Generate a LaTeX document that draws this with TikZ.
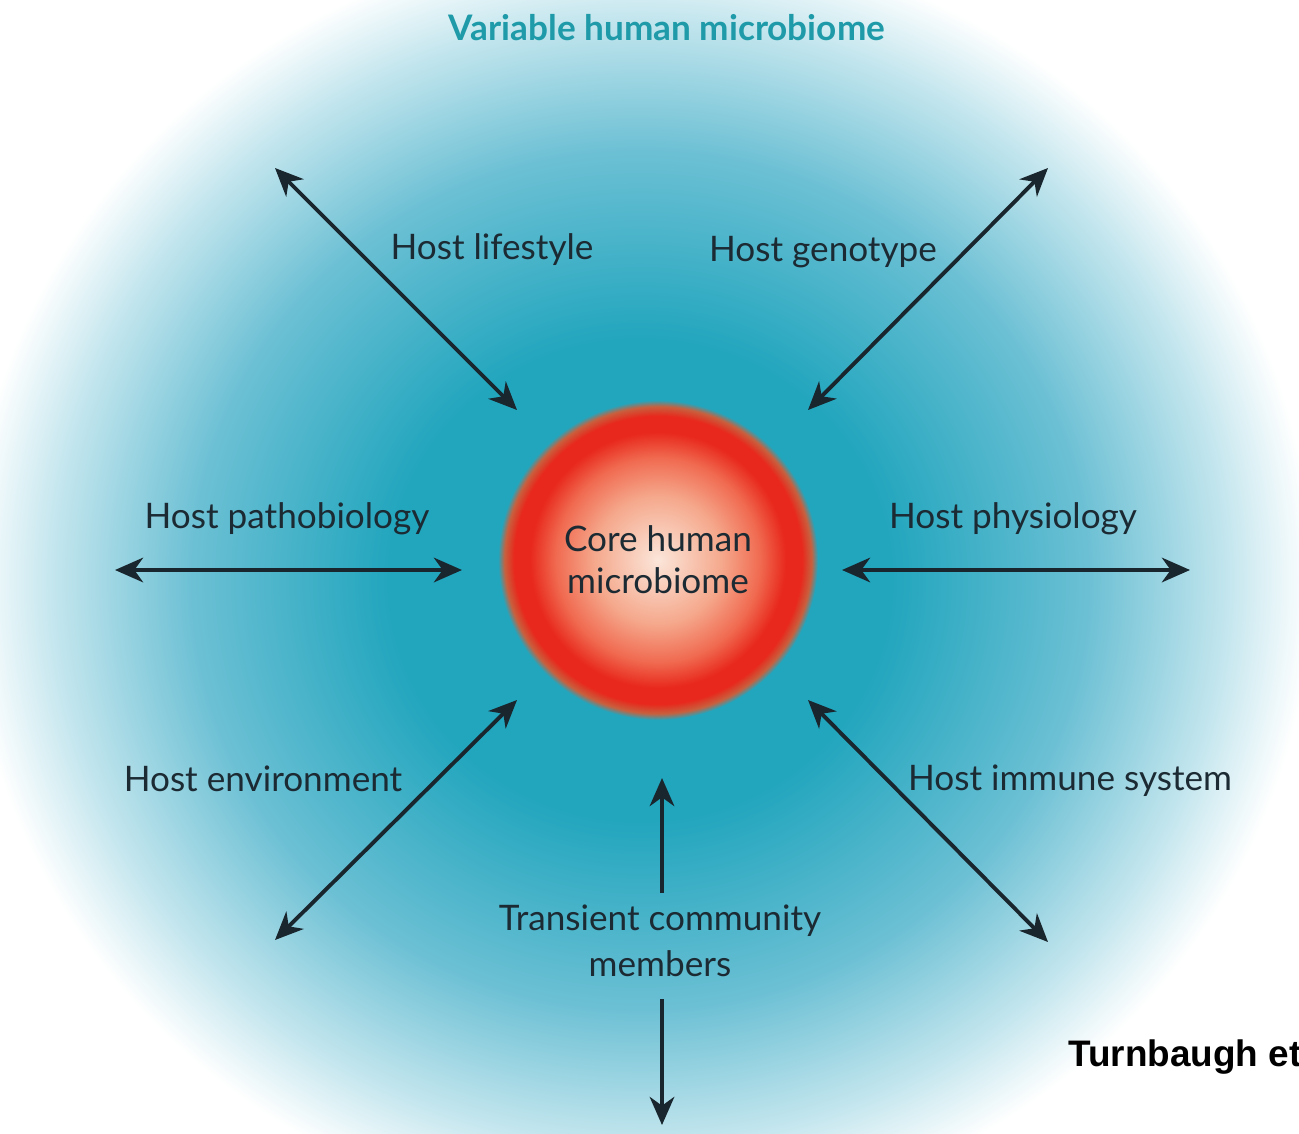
\documentclass[tikz,border=0pt]{standalone}
\usepackage{fontspec}
\setmainfont{Lato}
\setsansfont{Liberation Sans}
\usepackage{tikz}
\usetikzlibrary{arrows.meta, positioning, shapes.geometric}
\definecolor{glowteal}{HTML}{22A6BE}
\definecolor{midteal}{HTML}{6CC0D4}
\definecolor{paleteal}{HTML}{C4E6EE}
\definecolor{titleteal}{HTML}{1E9AA8}
\definecolor{corepale}{HTML}{FBE6DA}
\definecolor{coresalmon}{HTML}{F5A88C}
\definecolor{corecoral}{HTML}{F06A50}
\definecolor{corered}{HTML}{E8281C}
\definecolor{corerim}{HTML}{C8603E}
\definecolor{ink}{HTML}{1C2A33}
\pgfdeclareradialshading{bgglow}{\pgfpoint{0bp}{0bp}}{color(0bp)=(glowteal); color(9bp)=(glowteal); color(16bp)=(midteal); color(21bp)=(paleteal); color(24bp)=(white); color(25bp)=(white); color(50bp)=(white)}
\pgfdeclareradialshading{coreglow}{\pgfpoint{0bp}{0bp}}{color(0bp)=(corepale); color(10bp)=(coresalmon); color(16bp)=(corecoral); color(20bp)=(corered); color(22.5bp)=(corered); color(24bp)=(corerim); color(25bp)=(glowteal); color(50bp)=(glowteal)}

\begin{document}
\begin{tikzpicture}[
    every node/.style={font=\fontsize{10}{13}\selectfont, text=ink},
    core/.style={circle, shade, shading=coreglow, minimum size=3.2cm, inner sep=0pt, align=center, font=\fontsize{10}{12}\selectfont},
    lbl/.style={align=center},
    headline/.style={font=\fontsize{10}{12}\selectfont\bfseries, text=titleteal},
    cite/.style={font=\sffamily\bfseries\fontsize{10.5}{12}\selectfont, text=black, anchor=west},
    link/.style={{Stealth[length=8pt,width=7pt,inset=2.5pt]}-{Stealth[length=8pt,width=7pt,inset=2.5pt]}, line width=1.1pt, color=ink!90!black},
    uplink/.style={-{Stealth[length=8pt,width=7pt,inset=2.5pt]}, line width=1.1pt, color=ink!90!black}
]
% Frame and glow
\clip (0,0) rectangle (12.99,11.33);
\fill[white] (0,0) rectangle (12.99,11.33);
\shade[shading=bgglow] (6.40,5.53) ellipse [x radius=7.0, y radius=6.7];

% Core
\node[core] (core) at (6.58,5.73) {Core human\\microbiome};

% Labels
\node[headline] (title) at (6.67,11.05) {Variable human microbiome};
\node[lbl] (life)  at (4.92,8.83) {Host lifestyle};
\node[lbl] (geno)  at (8.23,8.81) {Host genotype};
\node[lbl] (patho) at (2.87,6.14) {Host pathobiology};
\node[lbl] (phys)  at (10.13,6.14) {Host physiology};
\node[lbl] (env)   at (2.63,3.54) {Host environment};
\node[lbl] (imm)   at (10.70,3.52) {Host immune system};
\node[lbl] (trans) at (6.60,1.92) {Transient community\\members};
\node[cite] (cite) at (10.56,0.76) {Turnbaugh et};

% Arrow ends
\coordinate (life-out)  at (2.75,9.65);
\coordinate (life-in)   at (5.17,7.23);
\coordinate (geno-out)  at (10.48,9.65);
\coordinate (geno-in)   at (8.08,7.23);
\coordinate (patho-out) at (1.15,5.63);
\coordinate (patho-in)  at (4.62,5.63);
\coordinate (phys-in)   at (8.42,5.63);
\coordinate (phys-out)  at (11.90,5.63);
\coordinate (env-out)   at (2.75,1.93);
\coordinate (env-in)    at (5.17,4.33);
\coordinate (imm-in)    at (8.08,4.33);
\coordinate (imm-out)   at (10.48,1.91);
\coordinate (trans-in)  at (6.62,3.55);
\coordinate (trans-out) at (6.62,0.08);

% Influences
\draw[link] (life-out) -- (life-in);
\draw[link] (geno-out) -- (geno-in);
\draw[link] (patho-out) -- (patho-in);
\draw[link] (phys-in) -- (phys-out);
\draw[link] (env-out) -- (env-in);
\draw[link] (imm-in) -- (imm-out);
\draw[uplink] (trans.north -| trans-in) -- (trans-in);
\draw[uplink] (trans.south -| trans-out) ++(0,-0.1) -- (trans-out);
\end{tikzpicture}
\end{document}
